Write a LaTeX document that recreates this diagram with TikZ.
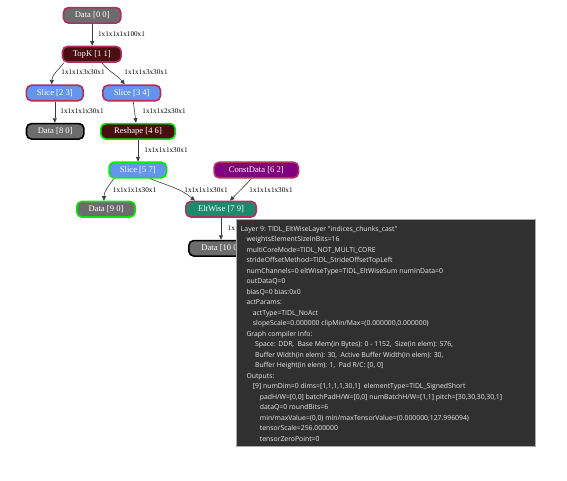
\documentclass[tikz,border=0pt]{standalone}
\usepackage{fontspec}
\setmainfont{Liberation Serif}
\newfontfamily\tipfont{Open Sans}
\usetikzlibrary{arrows.meta}
\definecolor{dgray}{RGB}{108,108,108}
\definecolor{mar}{RGB}{176,48,96}
\definecolor{dred}{RGB}{72,14,16}
\definecolor{cblue}{RGB}{100,149,237}
\definecolor{lgreen}{RGB}{0,235,0}
\definecolor{purp}{RGB}{128,0,128}
\definecolor{teal2}{RGB}{30,138,108}
\definecolor{tipbg}{RGB}{48,48,48}
\definecolor{tipfg}{RGB}{236,236,236}
\definecolor{tipborder}{RGB}{170,170,170}
\definecolor{edgec}{RGB}{60,60,60}
\tikzset{
  nd/.style={rounded corners=5pt, line width=1.6pt, minimum height=15.5pt, inner sep=0pt,
    text=white, font=\fontsize{8.6}{10}\selectfont},
  datanode/.style={nd, fill=dgray},
  topknode/.style={nd, fill=dred},
  slicenode/.style={nd, fill=cblue},
  constnode/.style={nd, fill=purp},
  eltnode/.style={nd, fill=teal2},
  edge/.style={draw=edgec, line width=0.6pt, -{Triangle[length=4.5pt,width=4pt]}},
  elabel/.style={inner sep=0pt, font=\fontsize{7.2}{8}\selectfont, text=black},
  tipbox/.style={draw=tipborder, fill=tipbg, line width=0.8pt, inner sep=0pt},
  tipline/.style={inner sep=0pt, anchor=base west, text=tipfg, font=\tipfont\fontsize{6.85}{8}\selectfont}
}
\newcommand{\tipl}[3]{\node[tipline] (t#1) at (#2,{220.6+10.5*#1}) {#3};}
\begin{document}
\begin{tikzpicture}[x=1pt,y=-1pt]
\useasboundingbox (0,0) rectangle (567,480);
% nodes
\node[datanode, draw=mar, minimum width=57.4pt] (d00) at (92.2,15.3) {Data [0 0]};
\node[topknode, draw=mar, minimum width=58.6pt] (topk) at (91.8,54.2) {TopK [1 1]};
\node[slicenode, draw=mar, minimum width=56.8pt] (s23) at (54.8,93) {Slice [2 3]};
\node[slicenode, draw=mar, minimum width=57.6pt] (s34) at (131.7,93) {Slice [3 4]};
\node[datanode, draw=black, minimum width=57.4pt] (d80) at (55.2,131.3) {Data [8 0]};
\node[topknode, draw=lgreen, minimum width=74.4pt] (resh) at (138,131.3) {Reshape [4 6]};
\node[slicenode, draw=lgreen, minimum width=57.4pt] (s57) at (137.8,170) {Slice [5 7]};
\node[constnode, draw=mar, minimum width=84.4pt] (cd) at (256.3,170) {ConstData [6 2]};
\node[datanode, draw=lgreen, minimum width=58.4pt] (d90) at (106,209.2) {Data [9 0]};
\node[eltnode, draw=mar, minimum width=70.4pt] (elt) at (221,209.2) {EltWise [7 9]};
\node[datanode, draw=black, minimum width=64.4pt] (d100) at (221,248.3) {Data [10 0]};
% edges
\draw[edge] (d00.south) -- (d00.south |- topk.north);
\draw[edge] ([xshift=2pt]topk.south west) to[out=-125,in=90] ([xshift=-3pt]s23.north);
\draw[edge] ([xshift=10pt]topk.south) to[out=-52,in=128] ([xshift=-7pt]s34.north);
\draw[edge] (s23.south) -- (s23.south |- d80.north);
\draw[edge] ([xshift=1.6pt]s34.south) -- ([xshift=-2pt]resh.north);
\draw[edge] (resh.south) -- (resh.south |- s57.north);
\draw[edge] ([xshift=-24pt]s57.south) to[out=-125,in=90] ([xshift=-2pt]d90.north);
\draw[edge] ([xshift=12pt]s57.south) to[out=-22,in=140] ([xshift=-26pt]elt.north);
\draw[edge] ([xshift=-4.6pt]cd.south) -- ([xshift=9pt]elt.north);
\draw[edge] (elt.south) -- (elt.south |- d100.north);
% edge labels
\node[elabel] (l1) at (121.5,34) {1x1x1x1x100x1};
\node[elabel] (l2) at (83,72.5) {1x1x1x3x30x1};
\node[elabel] (l3) at (146,72.5) {1x1x1x3x30x1};
\node[elabel] (l4) at (82,111) {1x1x1x1x30x1};
\node[elabel] (l5) at (164,111) {1x1x1x2x30x1};
\node[elabel] (l6) at (166,150) {1x1x1x1x30x1};
\node[elabel] (l7) at (134.5,190) {1x1x1x1x30x1};
\node[elabel] (l8) at (206,190) {1x1x1x1x30x1};
\node[elabel] (l9) at (271,190) {1x1x1x1x30x1};
\node[elabel, anchor=west] (l10) at (227.5,228.5) {1x};
% tooltip
\node[tipbox, anchor=north west, minimum width=299pt, minimum height=226.7pt] (tip) at (236,219.3) {};
\tipl{1}{240.7}{Layer 9: TIDL\_EltWiseLayer "indices\_chunks\_cast"}
\tipl{2}{246.3}{weightsElementSizeInBits=16}
\tipl{3}{246.3}{multiCoreMode=TIDL\_NOT\_MULTI\_CORE}
\tipl{4}{246.3}{strideOffsetMethod=TIDL\_StrideOffsetTopLeft}
\tipl{5}{246.3}{numChannels=0 eltWiseType=TIDL\_EltWiseSum numInData=0}
\tipl{6}{246.3}{outDataQ=0}
\tipl{7}{246.3}{biasQ=0 bias:0x0}
\tipl{8}{246.3}{actParams:}
\tipl{9}{252.7}{actType=TIDL\_NoAct}
\tipl{10}{252.7}{slopeScale=0.000000 clipMin/Max=(0.000000,0.000000)}
\tipl{11}{246.3}{Graph compiler Info:}
\tipl{12}{255}{Space: DDR,\ \ Base Mem(in Bytes): 0 - 1152,\ \ Size(in elem): 576,}
\tipl{13}{255}{Buffer Width(in elem): 30,\ \ Active Buffer Width(in elem): 30,}
\tipl{14}{255}{Buffer Height(in elem): 1,\ \ Pad R/C: [0, 0]}
\tipl{15}{246.3}{Outputs:}
\tipl{16}{252.7}{[9] numDim=0 dims=[1,1,1,1,30,1]\ \ elementType=TIDL\_SignedShort}
\tipl{17}{259.7}{padH/W=[0,0] batchPadH/W=[0,0] numBatchH/W=[1,1] pitch=[30,30,30,30,1]}
\tipl{18}{259.7}{dataQ=0 roundBits=6}
\tipl{19}{259.7}{min/maxValue=(0,0) min/maxTensorValue=(0.000000,127.996094)}
\tipl{20}{259.7}{tensorScale=256.000000}
\tipl{21}{259.7}{tensorZeroPoint=0}
\end{tikzpicture}
\end{document}
